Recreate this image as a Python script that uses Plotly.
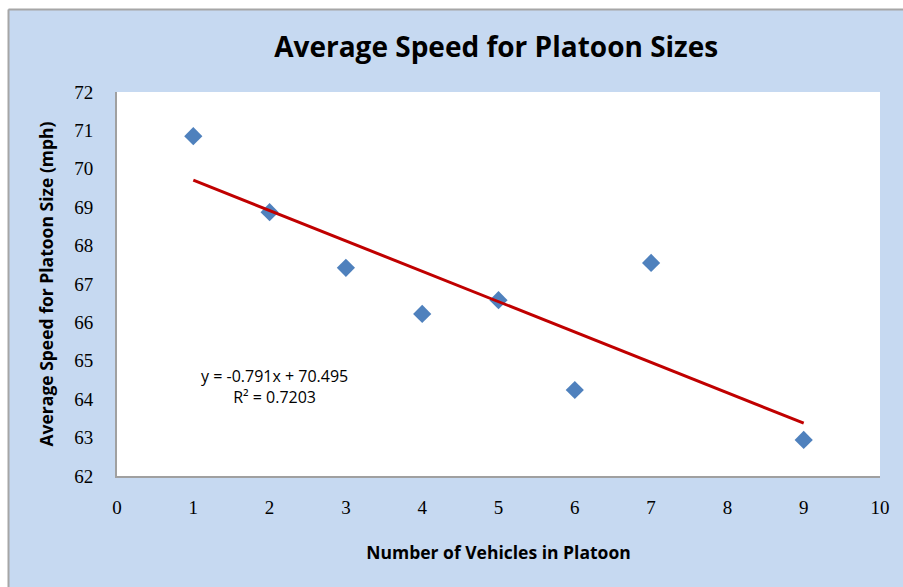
import plotly.graph_objects as go

# Platoon size vs. average speed
platoon_sizes = [1, 2, 3, 4, 5, 6, 7, 9]
avg_speeds = [70.85, 68.87, 67.42, 66.22, 66.58, 64.24, 67.55, 62.94]

# Linear trendline coefficients (as printed on the chart)
slope = -0.791
intercept = 70.495
r_squared = 0.7203

x_ticks = list(range(0, 11))
y_ticks = list(range(62, 73))

trend_x = [min(platoon_sizes), max(platoon_sizes)]
trend_y = [slope * x + intercept for x in trend_x]

BG = "#C6D9F1"
SERIF = "Liberation Serif, DejaVu Serif, serif"
SANS = "Open Sans, Lato, sans-serif"

fig = go.Figure()

fig.add_trace(go.Scatter(
    x=platoon_sizes, y=avg_speeds, mode="markers",
    marker=dict(symbol="diamond", size=14, color="#4F81BD"),
    showlegend=False, hoverinfo="x+y",
))

fig.add_trace(go.Scatter(
    x=trend_x, y=trend_y, mode="lines",
    line=dict(color="#C00000", width=3),
    showlegend=False, hoverinfo="skip",
))

fig.add_annotation(
    x=2.07, y=64.33, xref="x", yref="y",
    text=f"y = {slope}x + {intercept}<br>R² = {r_squared}",
    showarrow=False, align="center",
    font=dict(family=SANS, size=16, color="#000000"),
)

fig.update_layout(
    width=903, height=587,
    margin=dict(l=117, r=23, t=92, b=111),
    paper_bgcolor=BG, plot_bgcolor="#FFFFFF",
    title=dict(
        text="<b>Average Speed for Platoon Sizes</b>",
        x=0.497, xref="paper", xanchor="center",
        y=1 - 47 / 587, yref="container", yanchor="middle",
        font=dict(family=SANS, size=28, color="#000000"),
    ),
    xaxis=dict(
        range=[0, 10], tickvals=x_ticks, ticktext=[str(v) for v in x_ticks],
        showgrid=False, zeroline=False, showline=True,
        linecolor="#A0A0A0", linewidth=2, ticks="",
        ticklabelstandoff=13,
        tickfont=dict(family=SERIF, size=19, color="#000000"),
        title=dict(text="<b>Number of Vehicles in Platoon</b>", standoff=30,
                   font=dict(family=SANS, size=17.5, color="#000000")),
    ),
    yaxis=dict(
        range=[62, 72], tickvals=y_ticks, ticktext=[str(v) for v in y_ticks],
        showgrid=False, zeroline=False, showline=True,
        linecolor="#A0A0A0", linewidth=2, ticks="",
        ticklabelstandoff=18,
        tickfont=dict(family=SERIF, size=19, color="#000000"),
        title=dict(text="<b>Average Speed for Platoon Size (mph)</b>", standoff=16,
                   font=dict(family=SANS, size=17.5, color="#000000")),
    ),
    shapes=[
        # page strip above and left of the chart frame
        dict(type="rect", xref="paper", yref="paper",
             x0=-0.2, x1=1.1, y0=1 + (92 - 9) / 384, y1=1.3,
             fillcolor="#FFFFFF", line=dict(width=0), layer="above"),
        dict(type="rect", xref="paper", yref="paper",
             x0=-0.2, x1=(8 - 117) / 763, y0=-0.4, y1=1.3,
             fillcolor="#FFFFFF", line=dict(width=0), layer="above"),
        # frame edges
        dict(type="line", xref="paper", yref="paper",
             x0=(8.5 - 117) / 763, x1=1.1,
             y0=1 + (92 - 9.5) / 384, y1=1 + (92 - 9.5) / 384,
             line=dict(color="#A6A6A6", width=2)),
        dict(type="line", xref="paper", yref="paper",
             x0=(8.5 - 117) / 763, x1=(8.5 - 117) / 763,
             y0=-0.4, y1=1 + (92 - 9.5) / 384,
             line=dict(color="#A6A6A6", width=2)),
    ],
)

fig.write_html("out.html")
